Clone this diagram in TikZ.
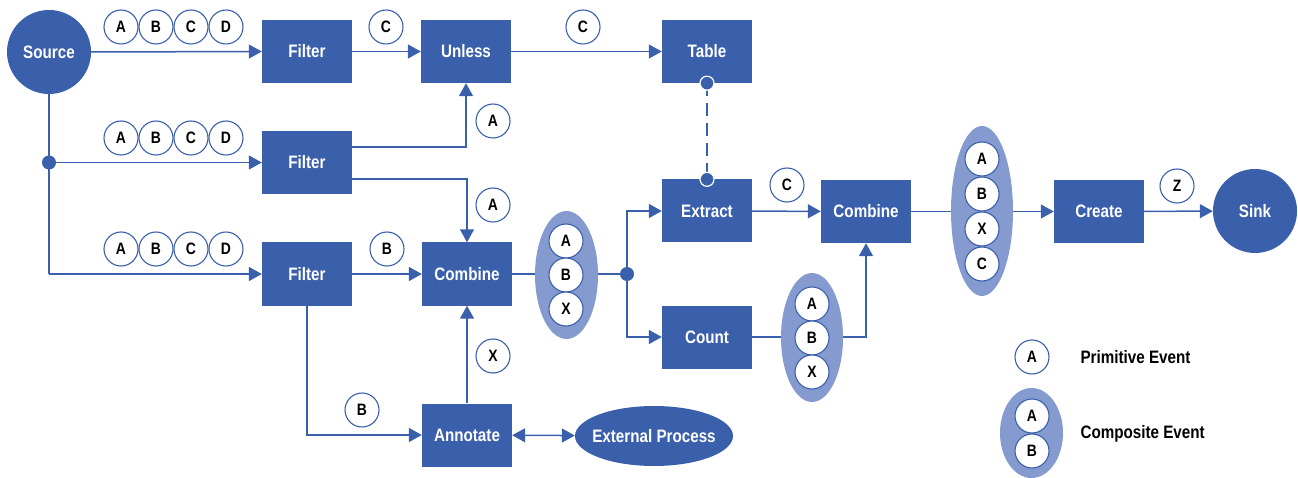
\documentclass[tikz,border=0pt]{standalone}
\usepackage{fontspec}
\setmainfont{Liberation Sans}[FakeStretch=0.845]
\usetikzlibrary{shapes.geometric,arrows.meta}
\definecolor{flowblue}{RGB}{58,96,172}
\definecolor{packblue}{RGB}{133,155,207}
\tikzset{
  opbox/.style={rectangle, fill=flowblue, minimum width=90pt, minimum height=63pt,
    inner sep=0pt, text=white, font=\fontsize{18}{20}\selectfont\bfseries},
  endpoint/.style={circle, fill=flowblue, minimum size=84pt, inner sep=0pt,
    text=white, font=\fontsize{18}{20}\selectfont\bfseries},
  ev/.style={circle, draw=flowblue, line width=1.1pt, fill=white, minimum size=34pt,
    inner sep=0pt, text=black, font=\fontsize{16.5}{18}\selectfont\bfseries},
  pack/.style={ellipse, fill=packblue, inner sep=0pt},
  dot/.style={circle, fill=flowblue, minimum size=14pt, inner sep=0pt},
  link/.style={draw=flowblue, line width=1.5pt},
  flow/.style={link, -{Triangle[length=13pt,width=14pt]}},
  legend/.style={anchor=west, text=black, font=\fontsize{18}{20}\selectfont\bfseries}
}
\begin{document}
\begin{tikzpicture}[x=1pt,y=-1pt]
\useasboundingbox (0,0) rectangle (1298,478);

% operators
\node[endpoint] (src) at (49,52) {Source};
\node[opbox] (f1) at (307,51.5) {Filter};
\node[opbox] (unless) at (466,51.5) {Unless};
\node[opbox] (table) at (707,51.5) {Table};
\node[opbox] (f2) at (307,162.5) {Filter};
\node[opbox] (f3) at (307,274) {Filter};
\node[opbox] (comb1) at (467,274) {Combine};
\node[opbox] (annot) at (467,435) {Annotate};
\node[ellipse, fill=flowblue, minimum width=158pt, minimum height=60pt, inner sep=0pt,
  label={[text=white, font=\fontsize{18}{20}\selectfont\bfseries]center:External Process}]
  (ext) at (654,436) {};
\node[opbox] (extract) at (707,211) {Extract};
\node[opbox] (count) at (707,337) {Count};
\node[opbox] (comb2) at (866,211.5) {Combine};
\node[opbox] (create) at (1099,211.5) {Create};
\node[endpoint] (sink) at (1255,211) {Sink};

% junctions
\node[dot] (j1) at (src.south |- f2.west) {};
\coordinate (j3) at (src.south |- f3.west);
\node[dot] (j2) at (627,274) {};

% connectors
\draw[flow] (src.east) -- (f1.west);
\draw[flow] (f1) -- (unless);
\draw[flow] (unless) -- (table);
\draw[link] (src.south) -- (j3);
\draw[flow] (j1) -- (f2.west);
\draw[flow] (j3) -- (f3.west);
\draw[flow] ([yshift=15.5pt]f2.east) -| (unless.south);
\draw[flow] ([yshift=-16.5pt]f2.east) -| (comb1.north);
\draw[flow] (f3) -- (comb1);
\draw[flow] (f3.south) |- (annot.west);
\draw[flow] (annot) -- (comb1);
\draw[link, {Triangle[length=13pt,width=14pt]}-{Triangle[length=13pt,width=14pt]}] (annot) -- (ext);
\draw[link] (comb1) -- (j2);
\draw[flow] (j2) |- (extract.west);
\draw[flow] (j2) |- (count.west);
\draw[flow] (extract) -- (comb2);
\draw[flow] (count.east) -| (comb2.south);
\draw[flow] (comb2) -- (create);
\draw[flow] (create) -- (sink);

% table lookup from extract
\draw[link, dash pattern=on 13pt off 7pt] (table.south) -- (extract.north);
\node[dot, draw=white, line width=1.2pt] (tl) at (table.south) {};
\node[dot, draw=white, line width=1.2pt] (el) at (extract.north) {};

% primitive events on the streams
\foreach \x/\l in {121/A,156/B,191/C,226/D}{
  \node[ev] at (\x,27) {\l};
  \node[ev] at (\x,138) {\l};
  \node[ev] at (\x,249) {\l};
}
\node[ev] at (386,27) {C};
\node[ev] at (583,27) {C};
\node[ev] at (493,121) {A};
\node[ev] at (493,205) {A};
\node[ev] at (387,249) {B};
\node[ev] at (362,410) {B};
\node[ev] at (493,356) {X};
\node[ev] at (787,185) {C};
\node[ev] at (1177,186) {Z};

% composite events
\node[pack, minimum width=63pt, minimum height=128pt] (p1) at (566.5,275) {};
\node[ev] at (566,241) {A};
\node[ev] at (566,275) {B};
\node[ev] at (566,309) {X};

\node[pack, minimum width=62pt, minimum height=129pt] (p2) at (812,337.5) {};
\node[ev] at (812,304) {A};
\node[ev] at (812,338) {B};
\node[ev] at (812,372) {X};

\node[pack, minimum width=62pt, minimum height=170pt] (p3) at (982,211) {};
\node[ev] at (982,159) {A};
\node[ev] at (982,194) {B};
\node[ev] at (982,229) {X};
\node[ev] at (982,264) {C};

% legend
\node[ev] (lp) at (1032,357) {A};
\node[legend] at (1077,357) {Primitive Event};
\node[pack, minimum width=63pt, minimum height=90pt] (lc) at (1031.5,433) {};
\node[ev] at (1032,416) {A};
\node[ev] at (1032,451) {B};
\node[legend] at (1077,434) {Composite Event};
\end{tikzpicture}
\end{document}
